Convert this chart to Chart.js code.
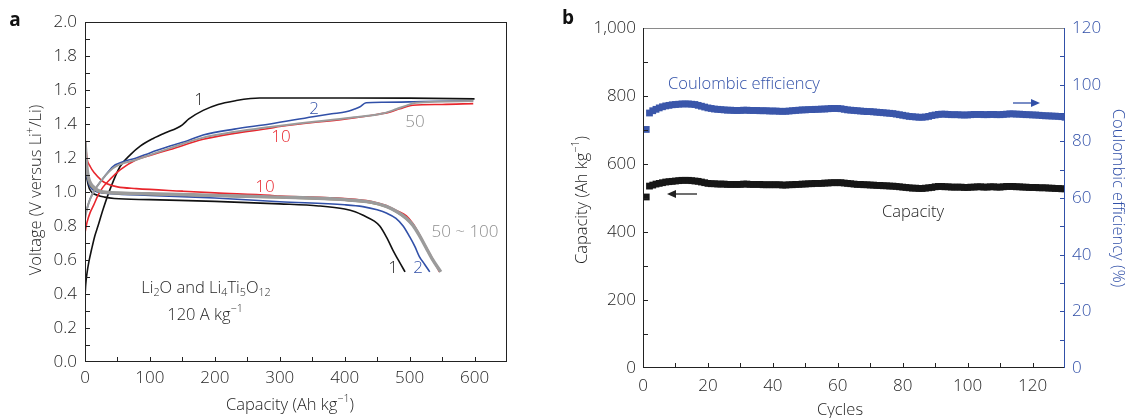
<!DOCTYPE html>
<html>
<head>
<meta charset="utf-8">
<script src="https://cdn.jsdelivr.net/npm/chart.js@4.4.1/dist/chart.umd.min.js"></script>
<style>
  html, body { margin: 0; padding: 0; background: #fff; }
  #wrap { position: relative; width: 1129px; height: 418px; overflow: hidden; }
  canvas { position: absolute; top: 0; }
  #chartA { left: 0; }
  #chartB { left: 545px; }
</style>
</head>
<body>
<div id="wrap">
  <canvas id="chartA" width="545" height="418"></canvas>
  <canvas id="chartB" width="584" height="418"></canvas>
</div>
<script>
// ---- Panel a: voltage profiles (capacity in Ah/kg, voltage in V) ----
const cap1Charge  = [0, 1, 3, 6, 10, 15, 20, 28, 40, 54, 70, 85, 105, 125, 141, 150, 160, 182, 205, 233, 255, 269, 300, 400, 500, 600];
const volt1Charge = [0.38, 0.45, 0.52, 0.59, 0.66, 0.74, 0.80, 0.90, 1.03, 1.15, 1.22, 1.27, 1.315, 1.35, 1.375, 1.395, 1.43, 1.48, 1.515, 1.538, 1.55, 1.553, 1.553, 1.553, 1.552, 1.548];
const cap1Dis  = [0, 2, 5, 10, 20, 30, 45, 100, 200, 300, 360, 400, 416, 430, 445, 454, 465, 474, 484, 493];
const volt1Dis = [1.28, 1.12, 1.04, 1.0, 0.98, 0.97, 0.962, 0.955, 0.945, 0.93, 0.918, 0.90, 0.884, 0.86, 0.83, 0.80, 0.73, 0.66, 0.59, 0.53];

const cap2Charge  = [0, 3, 8, 18, 30, 43, 60, 79, 100, 131, 160, 182, 230, 285, 351, 380, 402, 415, 423, 433, 460, 520, 598];
const volt2Charge = [0.86, 0.90, 0.96, 1.03, 1.09, 1.15, 1.18, 1.20, 1.23, 1.27, 1.305, 1.335, 1.37, 1.40, 1.443, 1.46, 1.472, 1.488, 1.50, 1.525, 1.528, 1.532, 1.537];
const cap2Dis  = [0, 2, 5, 10, 20, 40, 100, 200, 300, 400, 428, 450, 465, 479, 490, 500, 508, 515, 523, 531];
const volt2Dis = [1.27, 1.13, 1.06, 1.02, 1.0, 0.99, 0.98, 0.965, 0.943, 0.925, 0.914, 0.895, 0.875, 0.845, 0.80, 0.737, 0.68, 0.62, 0.575, 0.53];

const cap10Charge  = [0, 3, 8, 13, 20, 28, 40, 54, 79, 100, 131, 182, 230, 285, 300, 402, 440, 469, 485, 505, 550, 598];
const volt10Charge = [0.76, 0.82, 0.88, 0.92, 0.98, 1.03, 1.08, 1.13, 1.19, 1.215, 1.25, 1.31, 1.345, 1.375, 1.385, 1.43, 1.45, 1.47, 1.49, 1.51, 1.515, 1.52];
const cap10Dis  = [0, 3, 8, 15, 25, 33, 50, 79, 150, 200, 285, 300, 400, 440, 464, 480, 495, 505, 515, 525, 535, 546];
const volt10Dis = [1.32, 1.2, 1.15, 1.11, 1.07, 1.05, 1.03, 1.02, 1.005, 0.995, 0.98, 0.976, 0.962, 0.946, 0.92, 0.89, 0.86, 0.815, 0.75, 0.678, 0.61, 0.53];

const cap50Charge  = [0, 3, 8, 18, 43, 79, 131, 182, 285, 402, 460, 480, 495, 510, 598];
const volt50Charge = [0.84, 0.90, 0.96, 1.03, 1.14, 1.19, 1.258, 1.32, 1.382, 1.434, 1.463, 1.488, 1.508, 1.525, 1.535];
const cap50Dis  = [0, 2, 5, 13, 28, 100, 200, 300, 400, 440, 464, 480, 495, 505, 515, 525, 535, 548];
const volt50Dis = [1.30, 1.18, 1.09, 1.03, 1.0, 0.99, 0.98, 0.97, 0.955, 0.94, 0.915, 0.885, 0.845, 0.805, 0.745, 0.675, 0.605, 0.53];
const cap100Dis  = [0, 2, 5, 13, 28, 100, 200, 300, 400, 440, 464, 480, 495, 505, 515, 525, 535, 547];
const volt100Dis = [1.26, 1.15, 1.07, 1.02, 0.995, 0.985, 0.975, 0.965, 0.95, 0.935, 0.91, 0.88, 0.84, 0.80, 0.74, 0.67, 0.60, 0.53];

// ---- Panel b: cycling ----
const cycleNumbers = Array.from({ length: 130 }, (_, i) => i + 1);
const capacityValues = [
  503, 535, 538, 541, 543, 545, 547, 548, 549, 550,
  551, 552, 552, 552, 551, 550, 549, 547, 545, 543,
  542, 542, 541, 541, 541, 540, 540, 540, 540, 540,
  541, 541, 540, 540, 540, 540, 539, 539, 539, 539,
  539, 539, 538, 538, 539, 539, 540, 540, 541, 541,
  542, 542, 543, 543, 543, 544, 544, 545, 545, 545,
  545, 544, 543, 542, 541, 540, 540, 539, 539, 538,
  538, 537, 537, 536, 536, 535, 535, 534, 533, 532,
  531, 530, 529, 529, 528, 528, 529, 530, 531, 533,
  534, 534, 533, 533, 532, 532, 532, 532, 531, 531,
  532, 532, 533, 533, 532, 532, 533, 533, 532, 532,
  533, 534, 534, 534, 533, 533, 532, 532, 531, 531,
  531, 530, 530, 530, 529, 529, 528, 528, 527, 527
];
const efficiencyValues = [
  84.2, 90.0, 90.8, 91.3, 91.8, 92.2, 92.5, 92.7, 92.9, 93.0,
  93.1, 93.2, 93.2, 93.2, 93.1, 93.0, 92.7, 92.4, 92.1, 91.8,
  91.6, 91.4, 91.3, 91.2, 91.1, 91.0, 91.0, 90.9, 90.9, 90.9,
  91.0, 91.0, 90.9, 90.9, 90.9, 90.8, 90.8, 90.8, 90.7, 90.7,
  90.7, 90.6, 90.6, 90.6, 90.7, 90.8, 90.9, 91.0, 91.1, 91.1,
  91.2, 91.2, 91.3, 91.3, 91.4, 91.4, 91.5, 91.6, 91.6, 91.6,
  91.5, 91.3, 91.1, 91.0, 90.9, 90.8, 90.7, 90.6, 90.5, 90.5,
  90.4, 90.3, 90.2, 90.1, 90.0, 89.9, 89.8, 89.6, 89.4, 89.2,
  89.0, 88.8, 88.7, 88.6, 88.5, 88.5, 88.6, 88.8, 89.1, 89.3,
  89.5, 89.6, 89.6, 89.5, 89.4, 89.4, 89.4, 89.3, 89.3, 89.3,
  89.4, 89.5, 89.5, 89.5, 89.4, 89.4, 89.5, 89.5, 89.4, 89.4,
  89.5, 89.6, 89.7, 89.7, 89.6, 89.6, 89.5, 89.4, 89.4, 89.3,
  89.3, 89.2, 89.1, 89.0, 89.0, 88.9, 88.9, 88.8, 88.7, 88.5
];

const FONT = '"Open Sans", "Liberation Sans", sans-serif';
const WEIGHT = '300 ';
const TEXT = '#1e1e1e';
const BLUE = '#3150a8';
const RED = '#e8262d';
const GRAY = '#9b9b9b';

function pts(xs, ys) {
  return xs.map((x, i) => ({ x: x, y: ys[i] }));
}

// text with sub/superscripts: parts = [[text, shift]] shift -1 sup, 1 sub
function richText(ctx, parts, x, y, size, color, rot) {
  ctx.save();
  ctx.translate(x, y);
  if (rot) ctx.rotate(rot);
  ctx.fillStyle = color;
  ctx.textBaseline = 'middle';
  ctx.textAlign = 'left';
  let total = 0;
  parts.forEach(p => {
    ctx.font = WEIGHT + (p[1] ? size * 0.65 : size) + 'px ' + FONT;
    total += ctx.measureText(p[0]).width;
  });
  let cx = -total / 2;
  parts.forEach(p => {
    const s = p[1] ? size * 0.65 : size;
    ctx.font = WEIGHT + s + 'px ' + FONT;
    const dy = p[1] === -1 ? -size * 0.38 : p[1] === 1 ? size * 0.3 : 0;
    ctx.fillText(p[0], cx, dy);
    cx += ctx.measureText(p[0]).width;
  });
  ctx.restore();
}

function arrow(ctx, x1, x2, y, color) {
  ctx.save();
  ctx.strokeStyle = color;
  ctx.fillStyle = color;
  ctx.lineWidth = 1.3;
  ctx.beginPath();
  ctx.moveTo(x1, y);
  ctx.lineTo(x2, y);
  ctx.stroke();
  const d = x2 > x1 ? 1 : -1;
  ctx.beginPath();
  ctx.moveTo(x2 + d * 2, y);
  ctx.lineTo(x2 - d * 7, y - 4);
  ctx.lineTo(x2 - d * 7, y + 4);
  ctx.closePath();
  ctx.fill();
  ctx.restore();
}

// frame + inward ticks
const framePlugin = {
  id: 'frame',
  afterDatasetsDraw(chart, args, opts) {
    const ctx = chart.ctx;
    const a = chart.chartArea;
    ctx.save();
    ctx.lineWidth = 1;
    opts.sides.forEach(s => {
      ctx.strokeStyle = s.color;
      ctx.beginPath();
      if (s.side === 'left') { ctx.moveTo(a.left + 0.5, a.top); ctx.lineTo(a.left + 0.5, a.bottom); }
      if (s.side === 'right') { ctx.moveTo(a.right - 0.5, a.top); ctx.lineTo(a.right - 0.5, a.bottom); }
      if (s.side === 'top') { ctx.moveTo(a.left, a.top + 0.5); ctx.lineTo(a.right, a.top + 0.5); }
      if (s.side === 'bottom') { ctx.moveTo(a.left, a.bottom - 0.5); ctx.lineTo(a.right, a.bottom - 0.5); }
      ctx.stroke();
    });
    opts.ticks.forEach(t => {
      const sc = chart.scales[t.scale];
      ctx.strokeStyle = t.color;
      ctx.beginPath();
      for (let v = sc.min + t.step; v < sc.max - 1e-9; v += t.step) {
        const p = Math.round(sc.getPixelForValue(v)) + 0.5;
        if (t.side === 'bottom') { ctx.moveTo(p, a.bottom); ctx.lineTo(p, a.bottom - t.len); }
        if (t.side === 'left') { ctx.moveTo(a.left, p); ctx.lineTo(a.left + t.len, p); }
        if (t.side === 'right') { ctx.moveTo(a.right, p); ctx.lineTo(a.right - t.len, p); }
      }
      ctx.stroke();
    });
    ctx.restore();
  },
  afterDraw(chart, args, opts) {
    if (opts.extra) opts.extra(chart.ctx, chart);
  }
};

function fixSize(prop, val) {
  return function (scale) {
    scale[prop] = val;
    scale.paddingLeft = 0; scale.paddingRight = 0;
    scale.paddingTop = 0; scale.paddingBottom = 0;
  };
}

const tickFont = { family: FONT, size: 17, weight: '300' };

function line(data, color, width) {
  return {
    data: data, showLine: true, borderColor: color, borderWidth: width,
    pointRadius: 0, fill: false, cubicInterpolationMode: 'monotone'
  };
}

// ---- Chart a ----
new Chart(document.getElementById('chartA'), {
  type: 'scatter',
  data: {
    datasets: [
      line(pts(cap50Charge, volt50Charge), GRAY, 2),
      line(pts(cap50Dis, volt50Dis), GRAY, 3.4),
      line(pts(cap100Dis, volt100Dis), '#8a7a34', 1.2),
      line(pts(cap10Charge, volt10Charge), RED, 1.6),
      line(pts(cap10Dis, volt10Dis), RED, 1.6),
      line(pts(cap2Charge, volt2Charge), BLUE, 1.6),
      line(pts(cap2Dis, volt2Dis), BLUE, 1.6),
      line(pts(cap1Charge, volt1Charge), '#111111', 1.6),
      line(pts(cap1Dis, volt1Dis), '#111111', 1.6)
    ]
  },
  options: {
    responsive: false,
    animation: false,
    devicePixelRatio: 1,
    layout: { padding: { left: 0, top: 22, right: 38, bottom: 0 } },
    plugins: {
      legend: { display: false },
      tooltip: { enabled: false },
      frame: {
        sides: [
          { side: 'left', color: '#222' }, { side: 'bottom', color: '#222' },
          { side: 'top', color: '#222' }, { side: 'right', color: '#222' }
        ],
        ticks: [
          { scale: 'x', side: 'bottom', step: 50, len: 5, color: '#222' },
          { scale: 'y', side: 'left', step: 0.1, len: 5, color: '#222' }
        ],
        extra(ctx) {
          ctx.save();
          ctx.font = 'bold 19px ' + FONT;
          ctx.fillStyle = '#111';
          ctx.textAlign = 'center';
          ctx.textBaseline = 'middle';
          ctx.fillText('a', 15, 21);
          ctx.restore();
          richText(ctx, [['Voltage (V versus Li', 0], ['+', -1], ['/Li)', 0]], 36, 190, 16.5, TEXT, -Math.PI / 2);
          richText(ctx, [['Capacity (Ah kg', 0], ['\u22121', -1], [')', 0]], 290, 405, 16.5, TEXT, 0);
          richText(ctx, [['Li', 0], ['2', 1], ['O and Li', 0], ['4', 1], ['Ti', 0], ['5', 1], ['O', 0], ['12', 1]], 206, 288, 16.5, TEXT, 0);
          richText(ctx, [['120 A kg', 0], ['\u22121', -1]], 205, 315, 16.5, TEXT, 0);
          const lab = (t, x, y, c) => richText(ctx, [[t, 0]], x, y, 17, c, 0);
          lab('1', 199, 100, '#222');
          lab('2', 314, 109, BLUE);
          lab('10', 281, 137, RED);
          lab('50', 415, 122, '#8e8e8e');
          lab('10', 265, 187, RED);
          lab('50 ~ 100', 465, 232, '#8e8e8e');
          lab('1', 393, 268, '#222');
          lab('2', 418, 268, BLUE);
        }
      }
    },
    scales: {
      x: {
        type: 'linear', min: 0, max: 650,
        afterFit: fixSize('height', 56),
        grid: { display: false, drawTicks: false },
        border: { display: false },
        ticks: { stepSize: 100, includeBounds: false, padding: 6, color: TEXT, font: tickFont, maxRotation: 0 }
      },
      y: {
        type: 'linear', min: 0, max: 2,
        afterFit: fixSize('width', 85),
        grid: { display: false, drawTicks: false },
        border: { display: false },
        ticks: { stepSize: 0.2, padding: 8, color: TEXT, font: tickFont, callback: v => v.toFixed(1) }
      }
    }
  },
  plugins: [framePlugin]
});

// ---- Chart b ----
new Chart(document.getElementById('chartB'), {
  type: 'scatter',
  data: {
    datasets: [
      {
        data: pts(cycleNumbers, efficiencyValues), yAxisID: 'y1',
        pointStyle: 'rect', pointRadius: 4.8, backgroundColor: '#3a56aa', borderWidth: 0
      },
      {
        data: pts(cycleNumbers, capacityValues), yAxisID: 'y',
        pointStyle: 'rect', pointRadius: 4.8, backgroundColor: '#161616', borderWidth: 0
      }
    ]
  },
  options: {
    responsive: false,
    animation: false,
    devicePixelRatio: 1,
    layout: { padding: { left: 0, top: 28, right: 0, bottom: 0 } },
    plugins: {
      legend: { display: false },
      tooltip: { enabled: false },
      frame: {
        sides: [
          { side: 'top', color: '#8a8a8a' }, { side: 'left', color: '#222' },
          { side: 'bottom', color: '#222' }, { side: 'right', color: BLUE }
        ],
        ticks: [
          { scale: 'x', side: 'bottom', step: 10, len: 5, color: '#222' },
          { scale: 'y', side: 'left', step: 100, len: 5, color: '#222' },
          { scale: 'y1', side: 'right', step: 10, len: 5, color: BLUE }
        ],
        extra(ctx) {
          ctx.save();
          ctx.font = 'bold 19px ' + FONT;
          ctx.fillStyle = '#111';
          ctx.textAlign = 'center';
          ctx.textBaseline = 'middle';
          ctx.fillText('b', 23, 19);
          ctx.restore();
          richText(ctx, [['Capacity (Ah kg', 0], ['\u22121', -1], [')', 0]], 37, 200, 16.5, TEXT, -Math.PI / 2);
          richText(ctx, [['Coulombic efficiency (%)', 0]], 573, 198, 16.5, BLUE, Math.PI / 2);
          richText(ctx, [['Cycles', 0]], 295, 410, 16.5, TEXT, 0);
          richText(ctx, [['Coulombic efficiency', 0]], 199, 84, 16.5, BLUE, 0);
          richText(ctx, [['Capacity', 0]], 368, 212, 16.5, TEXT, 0);
          arrow(ctx, 152, 124, 194, '#222');
          arrow(ctx, 468, 493, 103, BLUE);
        }
      }
    },
    scales: {
      x: {
        type: 'linear', min: 0, max: 130,
        afterFit: fixSize('height', 50),
        grid: { display: false, drawTicks: false },
        border: { display: false },
        ticks: { stepSize: 20, includeBounds: false, padding: 8, color: TEXT, font: tickFont, maxRotation: 0 }
      },
      y: {
        type: 'linear', position: 'left', min: 0, max: 1000,
        afterFit: fixSize('width', 98),
        grid: { display: false, drawTicks: false },
        border: { display: false },
        ticks: { stepSize: 200, padding: 7, color: TEXT, font: tickFont, callback: v => v.toLocaleString('en-US') }
      },
      y1: {
        type: 'linear', position: 'right', min: 0, max: 120,
        afterFit: fixSize('width', 64),
        grid: { display: false, drawTicks: false },
        border: { display: false },
        ticks: { stepSize: 20, padding: 7, color: BLUE, font: tickFont }
      }
    }
  },
  plugins: [framePlugin]
});
</script>
</body>
</html>
